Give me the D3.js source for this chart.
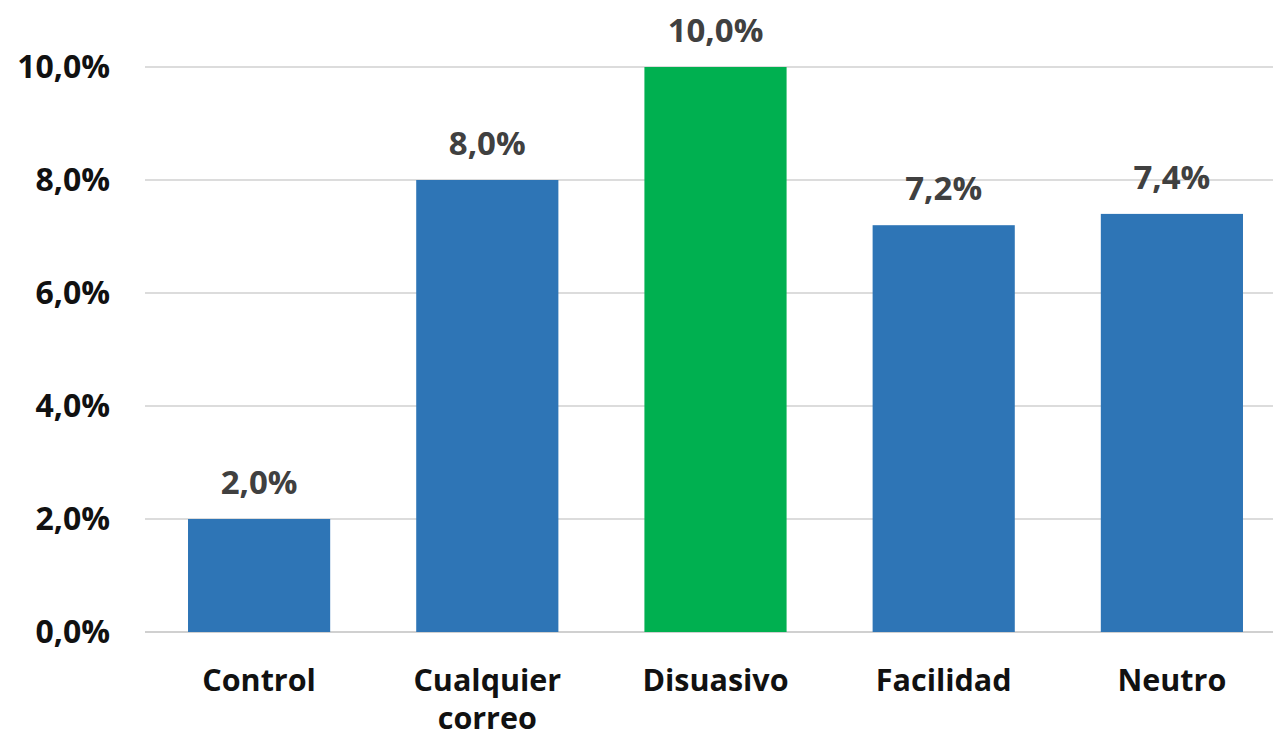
<!DOCTYPE html>
<html>
<head>
<meta charset="utf-8">
<script src="https://cdn.jsdelivr.net/npm/d3@7"></script>
<style>
  body { margin: 0; background: #fff; }
  svg text { font-family: "Open Sans", "Liberation Sans", sans-serif; font-weight: bold; }
</style>
</head>
<body>
<div id="chart"></div>
<script>
// Chart data
const categories = ["Control", "Cualquier correo", "Disuasivo", "Facilidad", "Neutro"];
const values = [0.020, 0.080, 0.100, 0.072, 0.074];
const highlighted = ["Disuasivo"];
const yTicks = [0, 0.02, 0.04, 0.06, 0.08, 0.10];

const width = 1273, height = 738;

const svg = d3.select("#chart")
    .append("svg")
    .attr("width", width)
    .attr("height", height);

// Scales
const x = d3.scaleBand()
    .domain(categories)
    .range([145, 1286])
    .paddingInner(0.377)
    .paddingOuter(0.1885);

const y = d3.scaleLinear()
    .domain([0, 0.10])
    .range([632, 67]);

const fmt = v => d3.format(".1f")(v * 100).replace(".", ",") + "%";

// Gridlines
svg.append("g")
    .selectAll("line")
    .data(yTicks)
    .enter().append("line")
    .attr("x1", 145)
    .attr("x2", width)
    .attr("y1", d => y(d))
    .attr("y2", d => y(d))
    .attr("stroke", d => d === 0 ? "#d0d0d0" : "#dcdcdc")
    .attr("stroke-width", 2);

// Y axis labels
const yAxis = d3.axisLeft(y)
    .tickValues(yTicks)
    .tickFormat(fmt)
    .tickSize(0)
    .tickPadding(0);

svg.append("g")
    .attr("transform", "translate(110,0)")
    .call(yAxis)
    .call(g => g.select(".domain").remove())
    .selectAll("text")
    .attr("font-family", null)
    .attr("font-size", 32)
    .attr("fill", "#111");

// Bars
svg.append("g")
    .selectAll("rect")
    .data(categories)
    .enter().append("rect")
    .attr("x", d => x(d))
    .attr("width", x.bandwidth())
    .attr("y", (d, i) => y(values[i]))
    .attr("height", (d, i) => y(0) - y(values[i]))
    .attr("fill", d => highlighted.includes(d) ? "#00b050" : "#2e75b6");

// Data labels
svg.append("g")
    .selectAll("text")
    .data(categories)
    .enter().append("text")
    .attr("x", d => x(d) + x.bandwidth() / 2)
    .attr("y", (d, i) => y(values[i]) - 25)
    .attr("text-anchor", "middle")
    .attr("font-size", 33)
    .attr("fill", "#404040")
    .text((d, i) => fmt(values[i]));

// Category labels (wrap on space for long names)
const xLabels = svg.append("g")
    .selectAll("text")
    .data(categories)
    .enter().append("text")
    .attr("text-anchor", "middle")
    .attr("font-size", 30.5)
    .attr("fill", "#111");

xLabels.each(function (d) {
    const words = d.split(" ");
    const t = d3.select(this);
    words.forEach((w, i) => {
        t.append("tspan")
            .attr("x", x(d) + x.bandwidth() / 2)
            .attr("y", 691 + i * 38)
            .text(w);
    });
});
</script>
</body>
</html>
